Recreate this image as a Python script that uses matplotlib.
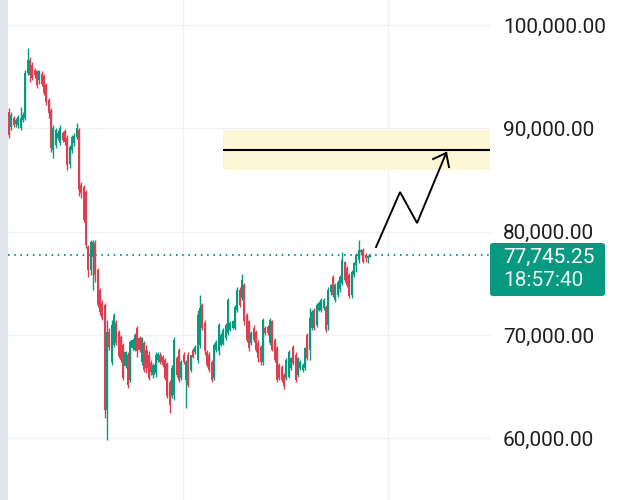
import matplotlib
matplotlib.use("Agg")
import matplotlib.pyplot as plt
from matplotlib.patches import Rectangle, FancyBboxPatch
from matplotlib.ticker import FuncFormatter, FixedLocator
import numpy as np

# ---- data (prices in thousands of USD) ----
opens = [91.6, 90.1, 91.0, 90.4, 90.3, 90.0, 90.8, 91.0, 95.4, 96.6,
         96.1, 95.6, 95.5, 94.7, 95.3, 95.1, 94.2, 92.7, 91.8, 87.9,
         88.4, 89.1, 88.6, 89.5, 89.7, 89.1, 86.5, 87.9, 88.6, 89.2,
         89.8, 84.5, 84.3, 83.8, 78.5, 76.3, 77.5, 78.9, 76.3, 74.3,
         73.1, 72.9, 62.7, 70.3, 67.4, 69.0, 71.2, 70.3, 69.8, 69.0,
         67.0, 68.1, 65.6, 68.7, 68.5, 70.7, 69.7, 67.4, 69.2, 68.5,
         68.1, 67.3, 66.1, 66.3, 67.6, 68.1, 67.9, 67.6, 67.2, 65.4,
         64.1, 64.2, 67.8, 68.5, 65.8, 68.1, 65.6, 68.1, 66.6, 68.5,
         68.3, 67.6, 69.0, 72.9, 71.2, 68.3, 68.1, 67.4, 65.8, 68.5,
         68.4, 69.0, 69.1, 69.7, 70.2, 70.5, 70.7, 70.7, 72.4, 74.3,
         73.6, 74.8, 71.9, 71.3, 69.2, 70.7, 70.3, 69.2, 68.8, 67.4,
         70.7, 70.8, 69.2, 71.3, 69.5, 68.7, 67.1, 66.9, 66.1, 65.8,
         65.9, 66.8, 68.8, 68.1, 66.1, 66.8, 66.6, 66.8, 70.0, 68.5,
         70.7, 72.4, 71.0, 72.4, 72.4, 72.6, 72.7, 71.0, 74.2, 75.6,
         73.4, 73.9, 74.4, 75.0, 77.1, 76.5, 75.8, 73.9, 75.8, 76.8,
         77.3, 78.0, 78.2, 77.7, 77.4, 77.55]
highs = [92.0, 91.6, 91.2, 91.0, 91.3, 92.1, 91.6, 95.6, 97.8, 96.9,
         96.4, 95.8, 95.6, 95.6, 95.5, 95.3, 94.4, 92.9, 92.0, 90.3,
         90.0, 89.8, 90.3, 89.7, 89.9, 89.4, 88.4, 89.4, 89.5, 90.5,
         90.0, 84.8, 84.5, 84.0, 78.7, 79.2, 79.2, 79.2, 76.5, 74.5,
         73.4, 73.1, 71.4, 70.7, 71.4, 72.1, 71.4, 70.5, 70.0, 69.2,
         68.4, 68.3, 69.5, 69.7, 70.2, 70.9, 69.9, 69.8, 69.4, 69.0,
         68.4, 67.6, 67.3, 68.3, 68.3, 68.3, 68.1, 67.8, 67.4, 65.6,
         67.1, 69.8, 68.0, 68.7, 67.6, 68.3, 67.6, 68.3, 68.1, 68.7,
         69.0, 72.4, 73.9, 73.1, 71.4, 68.5, 68.3, 67.6, 69.2, 69.5,
         71.2, 70.2, 70.7, 71.2, 73.6, 71.3, 71.4, 72.9, 74.6, 74.6,
         75.9, 75.0, 72.1, 71.4, 70.4, 71.0, 70.5, 69.5, 69.0, 71.6,
         70.9, 71.0, 71.6, 71.4, 69.7, 68.9, 67.3, 67.1, 66.3, 67.8,
         68.5, 67.9, 69.0, 68.3, 67.9, 67.6, 67.3, 68.8, 70.2, 72.6,
         72.4, 72.6, 73.1, 73.3, 73.6, 73.6, 72.9, 74.6, 74.9, 75.8,
         75.0, 75.3, 75.8, 78.0, 77.2, 76.7, 76.0, 76.3, 77.1, 77.9,
         79.2, 78.3, 78.4, 77.9, 77.7, 77.8]
lows = [89.1, 89.8, 90.1, 90.1, 90.0, 89.8, 90.6, 90.8, 95.2, 94.5,
        94.7, 94.9, 93.9, 94.3, 94.1, 93.2, 92.3, 91.0, 87.7, 87.1,
        88.1, 88.9, 88.4, 88.7, 88.4, 86.0, 86.2, 87.6, 88.3, 89.0,
        83.4, 83.3, 80.9, 78.4, 75.6, 75.8, 74.3, 75.1, 72.7, 71.9,
        71.4, 62.0, 59.8, 68.5, 67.1, 68.8, 69.0, 67.8, 67.4, 65.6,
        66.8, 64.9, 65.4, 68.5, 68.4, 67.9, 68.3, 67.1, 66.4, 66.3,
        65.6, 66.1, 65.8, 65.9, 67.4, 67.2, 66.9, 65.6, 63.9, 62.4,
        63.9, 63.7, 65.9, 65.4, 65.6, 67.2, 62.9, 65.0, 66.4, 67.8,
        68.2, 67.3, 68.7, 70.5, 68.1, 66.9, 66.4, 65.4, 65.6, 68.3,
        68.1, 68.9, 69.0, 69.5, 70.0, 70.4, 70.6, 70.5, 72.2, 72.7,
        73.4, 71.0, 69.3, 68.4, 69.0, 69.3, 68.3, 67.4, 67.1, 67.1,
        70.0, 70.0, 69.0, 68.4, 67.4, 65.4, 65.6, 65.4, 64.8, 65.6,
        65.8, 66.6, 67.1, 65.4, 65.9, 66.6, 66.4, 66.6, 67.6, 67.6,
        70.5, 70.5, 70.8, 72.3, 72.2, 72.4, 70.3, 70.5, 73.9, 73.7,
        73.2, 73.7, 74.2, 74.8, 75.1, 74.6, 73.6, 73.6, 75.6, 76.1,
        77.0, 77.7, 77.0, 77.1, 77.0, 77.5]
closes = [89.4, 91.3, 90.3, 90.8, 91.1, 91.0, 91.3, 95.4, 96.6, 95.2,
          94.9, 95.2, 94.2, 95.5, 94.3, 93.4, 92.5, 91.5, 88.1, 90.0,
          89.8, 89.5, 90.0, 88.9, 88.7, 86.4, 88.2, 89.2, 89.3, 90.0,
          84.0, 83.7, 81.1, 78.7, 76.3, 79.0, 79.0, 75.8, 72.9, 72.2,
          71.6, 62.7, 70.3, 68.8, 71.0, 71.9, 69.2, 68.0, 67.6, 65.8,
          68.3, 65.2, 69.3, 69.5, 70.0, 68.4, 68.5, 69.7, 66.6, 66.8,
          65.8, 66.4, 67.1, 68.1, 68.2, 67.4, 67.1, 65.8, 64.1, 63.2,
          66.8, 69.5, 66.1, 65.6, 67.4, 67.4, 67.4, 65.2, 68.1, 67.9,
          68.8, 71.9, 72.6, 70.7, 68.4, 67.1, 66.6, 65.6, 69.0, 69.3,
          71.0, 70.0, 70.5, 71.0, 73.4, 71.2, 71.3, 72.7, 74.3, 72.9,
          75.3, 71.3, 69.5, 68.7, 70.2, 69.5, 68.5, 67.8, 67.4, 71.4,
          70.2, 70.2, 71.4, 68.5, 67.6, 65.6, 65.8, 65.6, 65.1, 67.6,
          68.3, 67.8, 67.3, 65.6, 67.8, 67.4, 67.1, 68.7, 67.8, 71.6,
          72.2, 70.7, 72.9, 73.1, 73.4, 73.4, 70.5, 74.3, 74.8, 73.9,
          74.8, 75.1, 75.6, 77.3, 75.3, 74.8, 73.8, 76.1, 77.0, 77.7,
          78.2, 78.2, 77.1, 77.4, 77.6, 77.74525]

price_ticks = [60, 70, 80, 90, 100]
last_price = 77.74525
last_price_text = "77,745.25"
countdown_text = "18:57:40"

# drawing annotations (candle-index x, price y)
zone_x = [91.8, 206.4]
zone_y = [85.96, 89.84]
zone_line_y = 87.9
arrow_x = [157.5, 167.8, 175.1, 187.6]
arrow_y = [78.51, 83.83, 80.83, 87.61]
arrow_head_x = [182.0, 187.6, 188.8]
arrow_head_y = [87.03, 87.61, 86.25]
vgrid_x = [74.7, 162.7]

UP = "#089981"
DOWN = "#dc3f50"

# ---- figure ----
W, H = 623, 500
fig = plt.figure(figsize=(W / 100, H / 100), dpi=100)
fig.patch.set_facecolor("white")
ax = fig.add_axes([8 / W, 0, (490 - 8) / W, 1])
ax.set_facecolor("white")

# left grey bar
fig.patches.append(Rectangle((0, 0), 8 / W, 1, transform=fig.transFigure,
                             facecolor="#e2e4ee", edgecolor="none"))

n = len(closes)
idx = np.arange(n)
o = np.array(opens); c = np.array(closes)
hi = np.array(highs); lo = np.array(lows)
cols = [UP if cc >= oo else DOWN for oo, cc in zip(o, c)]

ax.set_xlim(-0.43, 206.4)
ax.set_ylim(54.02, 102.42)

# grid
for yv in price_ticks:
    ax.axhline(yv, color="#eff1f5", lw=1.0, zorder=0)
for xv in vgrid_x:
    ax.axvline(xv, color="#f1f2f6", lw=1.0, zorder=0)

# zone
ax.add_patch(Rectangle((zone_x[0], zone_y[0]), zone_x[1] - zone_x[0],
                       zone_y[1] - zone_y[0], facecolor="#fdf7d6",
                       edgecolor="none", zorder=1))
ax.plot(zone_x, [zone_line_y, zone_line_y], color="black", lw=1.5, zorder=3,
        solid_capstyle="butt")

# candles
ax.vlines(idx, lo, hi, colors=cols, lw=1.0, zorder=4)
body = np.maximum(np.abs(c - o), 0.12)
ax.bar(idx, body, bottom=np.minimum(o, c), width=0.88, color=cols,
       edgecolor="none", zorder=5)

# dotted last price line
ax.axhline(last_price, color=UP, lw=1.4, linestyle=(0, (0.8, 2.4)), zorder=2)

# arrow drawing
ax.plot(arrow_x, arrow_y, color="black", lw=1.4, zorder=6,
        solid_joinstyle="miter")
ax.plot(arrow_head_x, arrow_head_y, color="black", lw=1.4, zorder=6,
        solid_joinstyle="miter")

# axes styling
for s in ax.spines.values():
    s.set_visible(False)
ax.set_xticks([])
ax.yaxis.tick_right()
ax.yaxis.set_major_locator(FixedLocator(price_ticks))
ax.yaxis.set_major_formatter(FuncFormatter(lambda v, _: f"{v * 1000:,.2f}"))
ax.tick_params(axis="y", length=0, pad=9.4, labelsize=15, labelcolor="#1f1f1f")
for lab in ax.get_yticklabels():
    lab.set_fontfamily(["Roboto", "DejaVu Sans"])

# price label box
bx0, bx1 = 490 / W, 605 / W
by0, by1 = (H - 296) / H, (H - 243) / H
fig.patches.append(FancyBboxPatch((bx0, by0), bx1 - bx0, by1 - by0,
                                  boxstyle="round,pad=0,rounding_size=0.005",
                                  transform=fig.transFigure,
                                  facecolor=UP, edgecolor="none"))
fig.text(503 / W, (H - 257) / H, last_price_text, color="white", fontsize=15,
         family=["Roboto", "DejaVu Sans"], ha="left", va="center")
fig.text(503 / W, (H - 281) / H, countdown_text, color="#e8f6f2", fontsize=15,
         family=["Roboto", "DejaVu Sans"], ha="left", va="center")

fig.savefig("out.png", dpi=100, facecolor="white")
